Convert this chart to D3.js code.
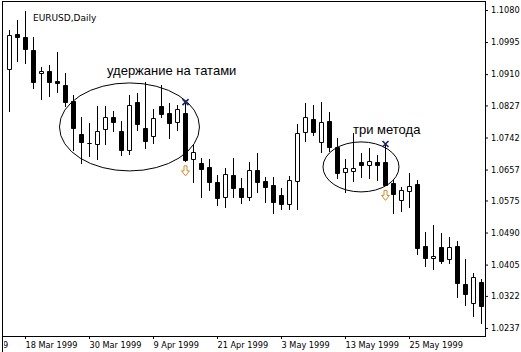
<!DOCTYPE html>
<html lang="ru">
<head>
<meta charset="UTF-8">
<title>EURUSD, Daily</title>
<style>
  body { margin: 0; background: #fff; }
  svg { display: block; }
  .axis text { font-family: "DejaVu Sans", sans-serif; font-size: 8.2px; fill: #000; }
  .axis line { stroke: #000; }
</style>
</head>
<body>
<svg id="chart"></svg>
<script src="https://d3js.org/d3.v7.min.js"></script>
<script>
// trading days shown on the chart
const dates = [
  '1999-03-16', '1999-03-17', '1999-03-18', '1999-03-19', '1999-03-22', '1999-03-23', '1999-03-24', '1999-03-25',
  '1999-03-26', '1999-03-29', '1999-03-30', '1999-03-31', '1999-04-01', '1999-04-02', '1999-04-05', '1999-04-06',
  '1999-04-07', '1999-04-08', '1999-04-09', '1999-04-12', '1999-04-13', '1999-04-14', '1999-04-15', '1999-04-16',
  '1999-04-19', '1999-04-20', '1999-04-21', '1999-04-22', '1999-04-23', '1999-04-26', '1999-04-27', '1999-04-28',
  '1999-04-29', '1999-04-30', '1999-05-03', '1999-05-04', '1999-05-05', '1999-05-06', '1999-05-07', '1999-05-10',
  '1999-05-11', '1999-05-12', '1999-05-13', '1999-05-14', '1999-05-17', '1999-05-18', '1999-05-19', '1999-05-20',
  '1999-05-21', '1999-05-24', '1999-05-25', '1999-05-26', '1999-05-27', '1999-05-28', '1999-05-31', '1999-06-01',
  '1999-06-02', '1999-06-03', '1999-06-04', '1999-06-07'
];
const open = [
  1.0924, 1.1016, 1.1008, 1.0974, 1.0913, 1.0918, 1.0892, 1.0881, 1.0839, 1.0751,
  1.0727, 1.0725, 1.0765, 1.0796, 1.0759, 1.0709, 1.0836, 1.0767, 1.0746, 1.0825,
  1.0807, 1.0783, 1.0807, 1.0685, 1.0674, 1.0664, 1.0624, 1.0584, 1.0643, 1.0608,
  1.0584, 1.0656, 1.0627, 1.0616, 1.0590, 1.0566, 1.0627, 1.0757, 1.0791, 1.0730,
  1.0786, 1.0717, 1.0651, 1.0653, 1.0677, 1.0669, 1.0677, 1.0677, 1.0621, 1.0576,
  1.0600, 1.0619, 1.0454, 1.0423, 1.0452, 1.0420, 1.0454, 1.0354, 1.0303, 1.0359
];
const high = [
  1.1027, 1.1053, 1.1077, 1.1008, 1.0929, 1.0934, 1.0969, 1.0913, 1.0855, 1.0796,
  1.0780, 1.0825, 1.0825, 1.0812, 1.0786, 1.0855, 1.0860, 1.0889, 1.0818, 1.0881,
  1.0833, 1.0828, 1.0833, 1.0722, 1.0688, 1.0685, 1.0643, 1.0661, 1.0688, 1.0635,
  1.0677, 1.0701, 1.0637, 1.0637, 1.0608, 1.0640, 1.0778, 1.0833, 1.0828, 1.0836,
  1.0810, 1.0741, 1.0685, 1.0754, 1.0701, 1.0714, 1.0696, 1.0722, 1.0629, 1.0611,
  1.0648, 1.0629, 1.0492, 1.0510, 1.0489, 1.0478, 1.0468, 1.0420, 1.0383, 1.0367
];
const low = [
  1.0812, 1.0945, 1.0940, 1.0873, 1.0844, 1.0852, 1.0863, 1.0825, 1.0709, 1.0674,
  1.0693, 1.0685, 1.0725, 1.0759, 1.0696, 1.0698, 1.0762, 1.0714, 1.0727, 1.0796,
  1.0741, 1.0762, 1.0680, 1.0624, 1.0584, 1.0603, 1.0563, 1.0558, 1.0584, 1.0568,
  1.0576, 1.0598, 1.0571, 1.0542, 1.0552, 1.0552, 1.0552, 1.0733, 1.0749, 1.0704,
  1.0706, 1.0635, 1.0598, 1.0627, 1.0637, 1.0635, 1.0629, 1.0615, 1.0542, 1.0547,
  1.0558, 1.0433, 1.0401, 1.0393, 1.0409, 1.0409, 1.0319, 1.0298, 1.0269, 1.0250
];
const close = [
  1.1014, 1.1008, 1.0977, 1.0889, 1.0918, 1.0889, 1.0886, 1.0836, 1.0767, 1.0730,
  1.0728, 1.0759, 1.0796, 1.0783, 1.0709, 1.0828, 1.0778, 1.0733, 1.0794, 1.0804,
  1.0780, 1.0818, 1.0682, 1.0704, 1.0659, 1.0624, 1.0582, 1.0645, 1.0608, 1.0584,
  1.0656, 1.0624, 1.0611, 1.0571, 1.0566, 1.0629, 1.0754, 1.0796, 1.0757, 1.0783,
  1.0717, 1.0648, 1.0661, 1.0661, 1.0669, 1.0680, 1.0669, 1.0616, 1.0592, 1.0603,
  1.0613, 1.0449, 1.0423, 1.0428, 1.0415, 1.0452, 1.0356, 1.0327, 1.0372, 1.0295
];
const priceTicks = [1.1080, 1.0995, 1.0910, 1.0827, 1.0742, 1.0657, 1.0575, 1.0490, 1.0405, 1.0322, 1.0237];
// bar index of each date label (every 8th bar, the first one lies left of the chart)
const dateTickIdx = [-6, 2, 10, 18, 26, 34, 42, 50];
const dateTickLabels = ['8 Mar 1999', '18 Mar 1999', '30 Mar 1999', '9 Apr 1999', '21 Apr 1999', '3 May 1999', '13 May 1999', '25 May 1999'];

const W = 521, H = 352;
const plot = { left: 2.5, top: 1.5, right: 485.5, bottom: 336.5 };

const svg = d3.select('#chart').attr('width', W).attr('height', H);

const x = d3.scaleLinear().domain([0, dates.length - 1]).range([9, 481]);
const y = d3.scaleLinear().domain([1.02157, 1.11012]).range([336, 2]);

// date labels are cut at the left window border, like in the terminal
svg.append('defs').append('clipPath').attr('id', 'xclip')
  .append('rect').attr('x', 4).attr('y', 0).attr('width', W).attr('height', H);

// frame (left line runs down to the bottom of the window)
svg.append('rect')
  .attr('x', plot.left).attr('y', plot.top)
  .attr('width', plot.right - plot.left).attr('height', plot.bottom - plot.top)
  .attr('fill', 'none').attr('stroke', '#000');
svg.append('line')
  .attr('x1', plot.left).attr('x2', plot.left)
  .attr('y1', plot.bottom).attr('y2', H)
  .attr('stroke', '#000');

// price axis on the right
const yAxis = d3.axisRight(y).tickValues(priceTicks).tickSize(3).tickFormat(d3.format('.4f'));
svg.append('g').attr('class', 'axis')
  .attr('transform', 'translate(485,0)')
  .call(yAxis)
  .call(g => g.select('.domain').remove());

// date axis
const xAxis = d3.axisBottom(x).tickValues(dateTickIdx).tickSize(3).tickFormat((d, i) => dateTickLabels[i]);
svg.append('g').attr('class', 'axis')
  .attr('clip-path', 'url(#xclip)')
  .attr('transform', 'translate(0,336)')
  .call(xAxis)
  .call(g => g.select('.domain').remove())
  .call(g => g.selectAll('text').attr('text-anchor', 'start').attr('x', 0));

// candles
const candles = dates.map((d, i) => ({ date: d, i, o: open[i], h: high[i], l: low[i], c: close[i] }));
const cg = svg.append('g').attr('class', 'candles');

cg.selectAll('line.wick')
  .data(candles)
  .join('line')
  .attr('class', 'wick')
  .attr('x1', d => x(d.i) + 0.5).attr('x2', d => x(d.i) + 0.5)
  .attr('y1', d => Math.round(y(d.h)))
  .attr('y2', d => Math.round(y(d.l)) + 1)
  .attr('stroke', '#000');

cg.selectAll('path.body')
  .data(candles)
  .join('path')
  .attr('class', 'body')
  .attr('d', d => {
    const t = Math.round(y(Math.max(d.o, d.c)));
    const b = Math.round(y(Math.min(d.o, d.c)));
    return `M${x(d.i) - 1.5},${t + 0.5}h4v${b - t}h-4z`;
  })
  .attr('fill', d => d.c >= d.o ? '#fff' : '#000')
  .attr('stroke', '#000');

// annotations
const notes = svg.append('g').attr('class', 'notes');

notes.append('ellipse')
  .attr('cx', x(15.06)).attr('cy', y(1.0770)).attr('rx', 70).attr('ry', 44)
  .attr('fill', 'none').attr('stroke', '#000');
notes.append('ellipse')
  .attr('cx', x(44)).attr('cy', y(1.0664)).attr('rx', 38).attr('ry', 25)
  .attr('fill', 'none').attr('stroke', '#000');

notes.append('text')
  .attr('x', x(12.25)).attr('y', y(1.0908))
  .attr('font-family', '"Liberation Sans", Arial, sans-serif').attr('font-size', 13)
  .text('удержание на татами');
notes.append('text')
  .attr('x', x(43)).attr('y', y(1.0751))
  .attr('font-family', '"Liberation Sans", Arial, sans-serif').attr('font-size', 13)
  .text('три метода');

notes.append('text')
  .attr('x', 33).attr('y', 21)
  .attr('font-family', '"DejaVu Sans", sans-serif').attr('font-size', 9)
  .text('EURUSD,Daily');

// sell signals: cross above the high, hollow arrow under the low
const signals = [22, 47];
signals.forEach(i => {
  const cx = x(i) + 0.5;
  const hy = y(high[i]) - 1;
  notes.append('path')
    .attr('d', `M${cx - 3},${hy - 3}L${cx + 3},${hy + 3}M${cx + 3},${hy - 3}L${cx - 3},${hy + 3}`)
    .attr('stroke', '#1a2460').attr('stroke-width', 1.6);
  const ay = y(low[i]) + 5;
  notes.append('path')
    .attr('d', `M${cx - 1.5},${ay}H${cx + 1.5}V${ay + 5}H${cx + 4}L${cx},${ay + 10}L${cx - 4},${ay + 5}H${cx - 1.5}Z`)
    .attr('fill', '#fff').attr('stroke', '#d08a2a');
});
</script>
</body>
</html>
